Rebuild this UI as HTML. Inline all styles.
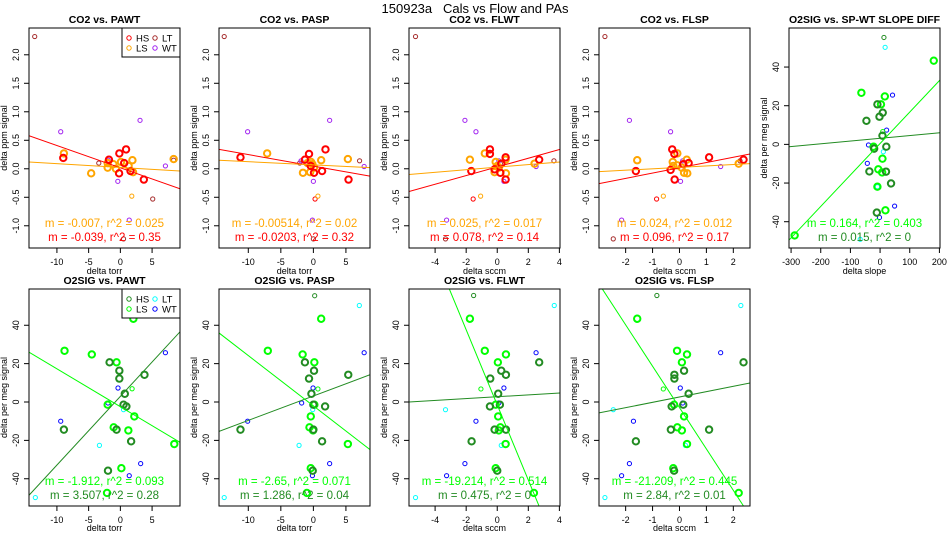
<!DOCTYPE html>
<html><head><meta charset="utf-8"><style>
body{margin:0;background:#fff;}
svg{display:block;font-family:"Liberation Sans",sans-serif;}
</style></head><body>
<svg id="c" width="950" height="550" viewBox="0 0 950 550">
<text x="475" y="13" text-anchor="middle" font-size="13" style="white-space:pre">150923a   Cals vs Flow and PAs</text>
</svg>
<script>
// ---- data ----
const p1HS=[[-9,0.19],[-1.8,0.16],[-0.16,0.27],[0.9,0.34],[-0.2,-0.08],[1.6,-0.04],[3.7,-0.19],[0.6,0.1]];
const p1LS=[[-8.9,0.27],[-4.6,-0.08],[-2,0.02],[-2,0.1],[-1.1,0.08],[-0.7,0],[0.1,0.12],[1.3,0.05],[1.9,0.15],[2,-0.06],[8.4,0.17]];
const p1HSo=[];
const p1LSo=[[1.8,-0.48]];
const p1LT=[[-13.5,2.32],[-3.4,0.1],[5.1,-0.53],[8.4,0.15],[0.5,-1.23]];
const p1WT=[[-9.4,0.65],[3.1,0.85],[-0.4,-0.22],[7.1,0.05],[1.4,-0.9],[-1.9,0.15]];
const p1LineHS=[[-14.4,0.58],[9.4,-0.35]];
const p1LineLS=[[-14.4,0.12],[9.4,-0.04]];

const p2HS=[[-11.2,0.2],[-0.67,0.26],[-1.3,0.16],[1.86,0.34],[0.1,-0.07],[1.34,-0.04],[5.4,-0.19],[-0.4,0.05]];
const p2LS=[[-7.1,0.27],[-1.6,-0.07],[-0.36,0.12],[-0.15,0.08],[-0.5,-0.06],[0.1,0.02],[1.2,0.15],[5.3,0.17],[-0.9,0.1]];
const p2HSo=[[0.26,-0.53]];
const p2LSo=[[0.7,-0.48]];
const p2LT=[[-13.7,2.32],[-2.1,0.1],[7.1,0.14],[0,-1.23]];
const p2WT=[[-10.1,0.65],[2.5,0.85],[0,-0.22],[7.8,0.04],[-0.15,-0.9],[-1.9,0.14]];
const p2LineHS=[[-14.5,0.34],[8.7,-0.13]];
const p2LineLS=[[-14.5,0.15],[8.7,0.02]];

const p3HS=[[-0.47,0.34],[-0.47,0.26],[0.54,0.2],[-1.67,-0.04],[0.2,-0.07],[0.54,-0.19],[2.7,0.16],[0.26,0.09],[-0.17,-0.01]];
const p3LS=[[-1.76,0.16],[-0.8,0.27],[-0.1,0.12],[0,0.05],[0.56,-0.08],[2.4,0.09],[0.54,0.16],[0.1,0.02],[-0.17,-0.06]];
const p3HSo=[[-1.55,-0.53]];
const p3LSo=[[-1.07,-0.48]];
const p3LT=[[-5.26,2.32],[3.65,0.14],[-3.33,-1.23],[0.2,0.09]];
const p3WT=[[-2.08,0.85],[-1.37,0.65],[0.43,-0.22],[2.5,0.04],[-3.26,-0.9],[0.1,0.14]];
const p3LineHS=[[-5.68,-0.4],[4.04,0.34]];
const p3LineLS=[[-5.68,-0.1],[4.04,0.12]];

const p4HS=[[-0.27,0.34],[-0.19,0.26],[1.1,0.2],[-1.62,-0.04],[-0.33,-0.02],[-0.18,-0.19],[2.38,0.16],[0.34,0.1],[0.14,0.08]];
const p4LS=[[-1.57,0.15],[-0.08,0.27],[-0.25,0.12],[-0.08,0.06],[0.29,-0.08],[2.2,0.09],[0.27,0.16],[0.08,0.02],[0.17,-0.07],[-0.23,0.05]];
const p4HSo=[[-0.85,-0.53]];
const p4LSo=[[-0.6,-0.48]];
const p4LT=[[-2.77,2.32],[2.25,0.14],[-2.46,-1.23]];
const p4WT=[[-1.86,0.85],[-0.33,0.65],[0.04,-0.22],[1.53,0.04],[-2.15,-0.9],[0.12,0.14]];
const p4LineHS=[[-2.99,-0.26],[2.62,0.26]];
const p4LineLS=[[-2.99,-0.05],[2.62,0.09]];

const p5HS=[[-9,20.7],[9,16.4],[-2,14.3],[-46,12.2],[8,4.5],[-20,-2.2],[21,-1.2],[20,-14.1],[-36,-14],[37,-20.2],[-11,-35.3]];
const p5LS=[[181,43.3],[-63,26.7],[16,24.8],[3,20.7],[-22,-1.2],[8,-7.4],[-6,-12.9],[7,-14.5],[-9,-21.9],[18,-34.1],[-288,-47.1]];
const p5HSo=[[13,55.3]];
const p5LSo=[[9,6.6]];
const p5LT=[[17,50.2],[-9,-21.9],[11,-3.8],[-67,-49.1]];
const p5WT=[[42,25.5],[22,7.4],[-39,-0.3],[-43,-9.8],[49,-31.9],[-2,-37.8]];
const p5LineHS=[[-307,-1.2],[202,6]];
const p5LineLS=[[-307,-49.5],[202,33.3]];

const b1HS=[[-1.7,20.7],[-0.16,16.3],[-0.16,12.2],[3.8,14.2],[0.7,4.3],[0.5,-1.4],[0.95,-2.3],[-8.9,-14.4],[-0.6,-14.4],[1.7,-20.5],[-1.95,-35.8]];
const b1LS=[[2.05,43.4],[-8.8,26.7],[-4.5,24.8],[-0.6,20.7],[-2,-1.4],[2.2,-7.5],[-1.05,-13.2],[1.26,-14.8],[8.5,-21.9],[0.16,-34.5],[-2.1,-47.4]];
const b1HSo=[];
const b1LSo=[[1.85,6.9]];
const b1LT=[[-3.3,-22.6],[0.5,-4],[-13.4,-49.8]];
const b1WT=[[7.1,25.7],[-0.37,7.3],[-1.95,-0.5],[-9.4,-10],[3.2,-32.1],[1.4,-38.4]];
const b1LineHS=[[-14.4,-48.6],[9.4,36.6]];
const b1LineLS=[[-14.4,26],[9.4,-21]];

const b2HS=[[-1.3,20.7],[0.1,16.3],[-0.67,12.2],[5.36,14.2],[-0.3,4.3],[0,-1.4],[1.8,-2.3],[-11.2,-14.4],[0,-14.4],[1.34,-20.5],[-0.1,-35.8]];
const b2LS=[[1.2,43.4],[-7,26.7],[-1.65,24.8],[0.15,20.7],[0.15,-1.4],[-0.4,-7.5],[-0.6,-13.2],[-0.05,-14.8],[5.3,-21.9],[-0.4,-34.5],[-1,-47.4]];
const b2HSo=[[0.2,55.4]];
const b2LSo=[[0.7,6.8]];
const b2LT=[[7.06,50.3],[-2.2,-22.6],[-0.1,-4],[-13.7,-49.8]];
const b2WT=[[7.8,25.7],[-0.05,7.3],[-1.8,-0.5],[-10.1,-10],[2.5,-32.1],[-0.15,-38.4]];
const b2LineHS=[[-14.5,-15.3],[8.7,14.2]];
const b2LineLS=[[-14.5,36],[8.7,-24.8]];

const b3HS=[[0.26,16.3],[0.56,14.2],[-0.45,12.2],[2.7,20.7],[0.06,4.3],[0.17,-1.4],[-0.47,-2.3],[-0.17,-14.4],[0.56,-14.4],[-1.65,-20.5],[0,-35.8]];
const b3LS=[[-1.76,43.4],[-0.8,26.7],[0.56,24.8],[0.04,20.7],[-0.1,-1.4],[0.06,-7.5],[0.2,-13.2],[0.1,-14.8],[0.54,-21.9],[-0.1,-34.5],[2.36,-47.4]];
const b3HSo=[[-1.52,55.5]];
const b3LSo=[[-1.05,6.8]];
const b3LT=[[3.67,50.3],[0.26,-22.6],[-3.33,-4],[-5.26,-49.8]];
const b3WT=[[2.5,25.7],[0.43,7.3],[0.1,-0.5],[-1.37,-10],[-2.08,-32.1],[-3.26,-38.4]];
const b3LineHS=[[-5.68,0],[4.04,4.7]];
const b3LineLS=[[-3.11,59.4],[2.68,-54]];

const b4HS=[[-0.19,14.2],[-0.19,12.2],[0.17,16.3],[2.38,20.7],[0.34,4.3],[0.14,-1.4],[-0.29,-2.3],[-0.32,-14.4],[1.1,-14.4],[-1.62,-20.5],[-0.2,-35.8]];
const b4LS=[[-1.57,43.4],[-0.09,26.7],[0.28,24.8],[0.09,20.7],[-0.2,-1.4],[0.17,-7.5],[-0.08,-13.2],[0.09,-14.8],[0.28,-21.9],[-0.23,-34.5],[2.2,-47.4]];
const b4HSo=[[-0.84,55.5]];
const b4LSo=[[-0.6,6.8]];
const b4LT=[[2.28,50.3],[0.22,-22.6],[-2.46,-4],[-2.77,-49.8]];
const b4WT=[[1.53,25.7],[0.03,7.3],[0.12,-0.5],[-1.71,-10],[-1.86,-32.1],[-2.15,-38.4]];
const b4LineHS=[[-2.99,-5.7],[2.62,9.9]];
const b4LineLS=[[-2.89,59.4],[2.37,-54]];

const xTicksTorr=[-10,-5,0,5];
const xTicksFlwt=[-4,-2,0,2,4];
const xTicksFlsp=[-2,-1,0,1,2];
const xTicksSlope=[-300,-200,-100,0,100,200];
const yTicksCO2=[-1.0,-0.5,0.0,0.5,1.0,1.5,2.0];
const yTicksO2=[-40,-20,0,20,40];

const titles=["CO2 vs. PAWT","CO2 vs. PASP","CO2 vs. FLWT","CO2 vs. FLSP","O2SIG vs. SP-WT SLOPE DIFF","O2SIG vs. PAWT","O2SIG vs. PASP","O2SIG vs. FLWT","O2SIG vs. FLSP"];
const statsLS=["m = -0.007, r^2 = 0.025","m = -0.00514, r^2 = 0.02","m = 0.025, r^2 = 0.017","m = 0.024, r^2 = 0.012","m = 0.164, r^2 = 0.403","m = -1.912, r^2 = 0.093","m = -2.65, r^2 = 0.071","m = -19.214, r^2 = 0.514","m = -21.209, r^2 = 0.445"];
const statsHS=["m = -0.039, r^2 = 0.35","m = -0.0203, r^2 = 0.32","m = 0.078, r^2 = 0.14","m = 0.096, r^2 = 0.17","m = 0.015, r^2 = 0","m = 3.507, r^2 = 0.28","m = 1.286, r^2 = 0.04","m = 0.475, r^2 = 0","m = 2.84, r^2 = 0.01"];

const svg=document.getElementById('c');
const NS="http://www.w3.org/2000/svg";
function mk(tag,attrs,parent){const e=document.createElementNS(NS,tag);for(const k in attrs)e.setAttribute(k,attrs[k]);(parent||svg).appendChild(e);return e;}

const CO2C={HS:"#ff0000",LS:"#ffa500",LT:"#a52a2a",WT:"#a020f0"};
const O2C={HS:"#228b22",LS:"#00ff00",LT:"#00ffff",WT:"#0000ff"};

const panels=[
 {i:0,row:0,col:0,xd:[-14.4,9.4],yd:[-1.39,2.47],xt:xTicksTorr,yt:yTicksCO2,yf:1,xl:"delta torr",yl:"delta ppm signal",c:CO2C,d:[p1HS,p1LS,p1HSo,p1LSo,p1LT,p1WT,p1LineHS,p1LineLS],leg:true},
 {i:1,row:0,col:1,xd:[-14.5,8.7],yd:[-1.39,2.47],xt:xTicksTorr,yt:yTicksCO2,yf:1,xl:"delta torr",yl:"delta ppm signal",c:CO2C,d:[p2HS,p2LS,p2HSo,p2LSo,p2LT,p2WT,p2LineHS,p2LineLS]},
 {i:2,row:0,col:2,xd:[-5.68,4.04],yd:[-1.39,2.47],xt:xTicksFlwt,yt:yTicksCO2,yf:1,xl:"delta sccm",yl:"delta ppm signal",c:CO2C,d:[p3HS,p3LS,p3HSo,p3LSo,p3LT,p3WT,p3LineHS,p3LineLS]},
 {i:3,row:0,col:3,xd:[-2.99,2.62],yd:[-1.39,2.47],xt:xTicksFlsp,yt:yTicksCO2,yf:1,xl:"delta sccm",yl:"delta ppm signal",c:CO2C,d:[p4HS,p4LS,p4HSo,p4LSo,p4LT,p4WT,p4LineHS,p4LineLS]},
 {i:4,row:0,col:4,xd:[-307,202],yd:[-53.6,60.2],xt:xTicksSlope,yt:yTicksO2,yf:0,xl:"delta slope",yl:"delta per meg signal",c:O2C,d:[p5HS,p5LS,p5HSo,p5LSo,p5LT,p5WT,p5LineHS,p5LineLS]},
 {i:5,row:1,col:0,xd:[-14.4,9.4],yd:[-54.2,58.9],xt:xTicksTorr,yt:yTicksO2,yf:0,xl:"delta torr",yl:"delta per meg signal",c:O2C,d:[b1HS,b1LS,b1HSo,b1LSo,b1LT,b1WT,b1LineHS,b1LineLS],leg:true},
 {i:6,row:1,col:1,xd:[-14.5,8.7],yd:[-54.2,58.9],xt:xTicksTorr,yt:yTicksO2,yf:0,xl:"delta torr",yl:"delta per meg signal",c:O2C,d:[b2HS,b2LS,b2HSo,b2LSo,b2LT,b2WT,b2LineHS,b2LineLS]},
 {i:7,row:1,col:2,xd:[-5.68,4.04],yd:[-54.2,58.9],xt:xTicksFlwt,yt:yTicksO2,yf:0,xl:"delta sccm",yl:"delta per meg signal",c:O2C,d:[b3HS,b3LS,b3HSo,b3LSo,b3LT,b3WT,b3LineHS,b3LineLS]},
 {i:8,row:1,col:3,xd:[-2.99,2.62],yd:[-54.2,58.9],xt:xTicksFlsp,yt:yTicksO2,yf:0,xl:"delta sccm",yl:"delta per meg signal",c:O2C,d:[b4HS,b4LS,b4HSo,b4LSo,b4LT,b4WT,b4LineHS,b4LineLS]}
];

panels.forEach(p=>{
 const L=29+190*p.col, R=180+190*p.col;
 const T=p.row?289:28, B=p.row?506:248;
 const sx=v=>L+(v-p.xd[0])/(p.xd[1]-p.xd[0])*(R-L);
 const sy=v=>B-(v-p.yd[0])/(p.yd[1]-p.yd[0])*(B-T);
 const g=mk('g',{});
 
 
 const cp=mk('clipPath',{id:'cp'+p.i},g);
 mk('rect',{x:L,y:T,width:R-L,height:B-T},cp);
 const t=mk('text',{x:(L+R)/2,y:T-5,'text-anchor':'middle','font-size':'10.5','font-weight':'bold'},g);
 t.textContent=titles[p.i];
 
 
 p.xt.forEach(v=>{
  const x=sx(v);
  const tk=mk('line',{x1:x,x2:x,y1:B,y2:B+5,stroke:'#000','stroke-width':1},g);
  
  
  const tl=mk('text',{x:x,y:B+17,'text-anchor':'middle','font-size':'9'},g);
  tl.textContent=String(v);
  
  
 });
 p.yt.forEach(v=>{
  const y=sy(v);
  const tk=mk('line',{x1:L-5,x2:L,y1:y,y2:y,stroke:'#000','stroke-width':1},g);
  
  
  const tl=mk('text',{x:L-10,y:y,'text-anchor':'middle','font-size':'9',transform:`rotate(-90 ${L-10} ${y})`},g);
  tl.textContent=p.yf?v.toFixed(1):String(v);
  
  
 });
 const xl=mk('text',{x:(L+R)/2,y:B+(p.row?25:26),'text-anchor':'middle','font-size':'9'},g);
 xl.textContent=p.xl;
 
 
 const yx=L-22, yy=(T+B)/2;
 const yl=mk('text',{x:yx,y:yy,'text-anchor':'middle','font-size':'9',transform:`rotate(-90 ${yx} ${yy})`},g);
 yl.textContent=p.yl;
 
 
 const [hs,ls,hso,lso,lt,wt,lhs,lls]=p.d;
 const cg=mk('g',{'clip-path':`url(#cp${p.i})`},g);
 const drawPts=(arr,col,r,w,name)=>arr.forEach(pt=>{
  const c=mk('circle',{cx:sx(pt[0]),cy:sy(pt[1]),r:r,fill:'none',stroke:col,'stroke-width':w},cg);
  
  
 });
 drawPts(lt,p.c.LT,2.1,1,'lt-point');
 drawPts(wt,p.c.WT,2.1,1,'wt-point');
 drawPts(hso,p.c.HS,2.1,1,'hs-outlier-point');
 drawPts(lso,p.c.LS,2.1,1,'ls-outlier-point');
 drawPts(ls,p.c.LS,3.2,2,'ls-point');
 drawPts(hs,p.c.HS,3.2,2,'hs-point');
 const drawLine=(ln,col,name)=>{
  const l=mk('line',{x1:sx(ln[0][0]),y1:sy(ln[0][1]),x2:sx(ln[1][0]),y2:sy(ln[1][1]),stroke:col,'stroke-width':1},cg);
  
  
 };
 drawLine(lhs,p.c.HS,'hs-fit-line');
 drawLine(lls,p.c.LS,'ls-fit-line');
 mk('rect',{x:L,y:T,width:R-L,height:B-T,fill:'none',stroke:'#000','stroke-width':1},g);
 const a1=mk('text',{x:(L+R)/2,y:B-21,'text-anchor':'middle','font-size':'11.5',fill:p.c.LS},g);
 a1.textContent=statsLS[p.i];
 
 
 const a2=mk('text',{x:(L+R)/2,y:B-7,'text-anchor':'middle','font-size':'11.5',fill:p.c.HS},g);
 a2.textContent=statsHS[p.i];
 
 
 if(p.leg){
  const lg=mk('g',{},g);
  
  
  mk('rect',{x:R-58,y:T,width:58,height:29,fill:'#fff',stroke:'#000','stroke-width':1},lg);
  [['HS',0,0],['LS',0,1],['LT',1,0],['WT',1,1]].forEach(([k,cx,ry])=>{
   const ex=R-51+cx*26, ey=T+10+ry*10;
   const e=mk('g',{},lg);
   
   
   mk('circle',{cx:ex,cy:ey,r:2.2,fill:'none',stroke:p.c[k],'stroke-width':1},e);
   const tt=mk('text',{x:ex+7,y:ey+3.5,'font-size':'9.5'},e);
   tt.textContent=k;
  });
 }
});
</script>
</body></html>
